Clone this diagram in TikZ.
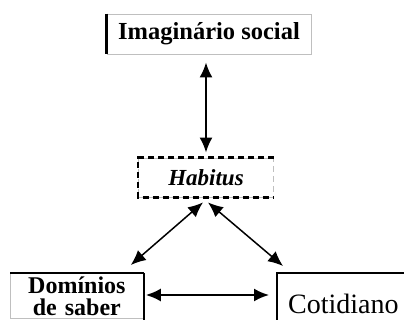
\documentclass[tikz,border=0pt]{standalone}
\usepackage{fontspec}
\setmainfont{Liberation Serif}
\usetikzlibrary{arrows.meta}
\definecolor{edgegray}{gray}{0.75}

\begin{document}
\begin{tikzpicture}[x=1pt, y=-1pt,
    box/.style={draw=edgegray, line width=0.8pt, inner sep=0pt},
    dbl/.style={{Latex[length=15pt, width=13pt]}-{Latex[length=15pt, width=13pt]}, line width=2pt},
    dblthin/.style={dbl, line width=1.5pt},
    edge/.style={line width=2.5pt},
    dashedge/.style={line width=2.5pt, dash pattern=on 6pt off 4pt}]
    \clip (0,0) rectangle (404,320);
    \fill[white] (0,0) rectangle (404,320);

    % Boxes
    \node[box, minimum width=204pt, minimum height=40pt,
          font=\fontsize{24.5}{28}\selectfont\bfseries] (imag) at (209,34) {Imaginário social};
    \node[box, dash pattern=on 6pt off 4pt, minimum width=135pt, minimum height=39pt,
          font=\fontsize{23}{26}\selectfont\bfseries\itshape] (habitus) at (206,177.5) {Habitus};
    \node[box, anchor=north west, text width=133pt, align=center, inner ysep=3pt,
          font=\fontsize{24}{22}\selectfont\bfseries] (dom) at (10,273) {Domínios\\de saber};
    \node[box, anchor=north west, minimum width=132pt, minimum height=62pt,
          font=\fontsize{28}{30}\selectfont] (cot) at (277,273) {Cotidiano};

    % Heavy edges
    \draw[edge] (imag.north west) -- (imag.south west);
    \draw[dashedge] (habitus.north east) -- (habitus.north west) -- (habitus.south west) -- (habitus.south east);
    \draw[line width=1.2pt] (dom.north west) -- (dom.north east);
    \draw[edge] (dom.north east) -- ++(0,60);
    \draw[edge] (cot.south west) -- (cot.north west) -- (cot.north east);

    % Arrows
    \draw[dbl] (imag.south -| habitus.north) ++(0,8) -- ([yshift=5pt]habitus.north);
    \draw[dblthin] ([xshift=-3pt,yshift=-5pt]habitus.south) -- ([xshift=-13pt,yshift=8pt]dom.north east);
    \draw[dblthin] ([xshift=2pt,yshift=-5pt]habitus.south) -- ([xshift=6pt,yshift=7pt]cot.north west);
    \draw[dbl] ([xshift=2pt,yshift=-22pt]dom.north east) -- ([xshift=-8pt,yshift=-22pt]cot.north west);
\end{tikzpicture}
\end{document}
